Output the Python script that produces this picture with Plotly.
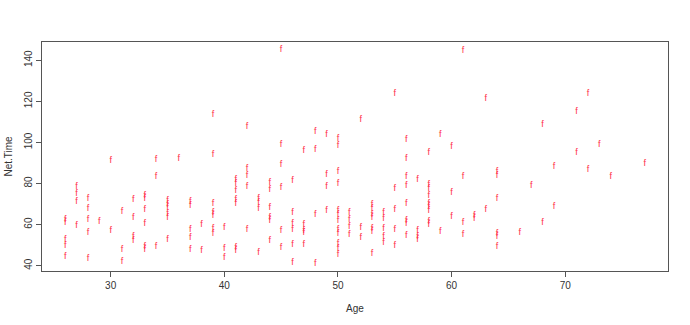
import plotly.graph_objects as go

# Data (Age -> Net.Time values)
ages_26_40 = {
    26: [62.4, 60.7, 52.7, 49.9, 44.5],
    27: [78.3, 75.1, 71.0, 59.6],
    28: [72.6, 67.8, 62.5, 55.9, 43.4],
    29: [61.2],
    30: [91.3, 56.9],
    31: [66.1, 47.8, 42.1],
    32: [72.1, 63.4, 53.9, 52.3],
    33: [74.2, 72.8, 67.3, 60.5, 49.4, 47.8],
    34: [91.8, 83.5, 49.4],
    35: [71.8, 69.9, 68.1, 65.5, 63.5, 52.8],
    36: [92.3],
    37: [71.0, 69.4, 57.5, 53.4, 47.8],
    38: [60.0, 47.5],
    39: [113.5, 94.2, 70.2, 65.6, 64.4, 57.8, 55.6],
    40: [58.5, 48.3, 43.8],
}
ages_41_55 = {
    41: [82.0, 80.0, 76.7, 72.0, 70.3, 48.5, 47.3],
    42: [107.5, 87.2, 84.0, 78.3, 57.5],
    43: [72.8, 70.8, 67.6, 46.1],
    44: [80.2, 77.0, 68.4, 63.2, 61.8, 52.0],
    45: [145.0, 99.1, 89.3, 77.8, 56.9, 48.6],
    46: [81.3, 65.9, 60.6, 57.5, 50.4, 41.3],
    47: [95.8, 60.1, 57.0, 55.8, 50.4],
    48: [105.2, 96.5, 65.0, 41.0],
    49: [103.6, 84.5, 78.6, 66.6],
    50: [101.9, 98.6, 85.8, 79.8, 66.6, 64.6, 62.1, 57.3, 55.6, 50.7, 48.3, 45.5],
    51: [65.6, 62.4, 59.1, 55.2],
    52: [111.1, 58.5, 53.6],
    53: [69.5, 67.6, 65.0, 63.2, 57.8, 56.6, 46.0],
    54: [65.6, 62.9, 58.2, 53.9, 51.2],
    55: [123.8, 77.5, 67.3, 57.5, 49.9],
}
ages_56_77 = {
    56: [101.4, 92.1, 83.2, 79.0, 70.0, 62.1, 60.5, 54.8],
    57: [81.9, 56.9, 54.0, 52.4],
    58: [94.8, 79.2, 77.5, 74.2, 70.0, 68.6, 66.6, 61.5, 60.0],
    59: [103.5, 56.4],
    60: [97.7, 75.6, 63.6],
    61: [144.5, 83.2, 60.7, 55.2],
    62: [64.5, 63.0],
    63: [121.3, 67.3],
    64: [85.6, 84.0, 72.5, 55.6, 54.0, 49.4],
    66: [55.9],
    67: [78.8],
    68: [108.7, 60.9],
    69: [88.4, 68.5],
    71: [114.8, 95.0],
    72: [123.8, 86.8],
    73: [99.0],
    74: [83.2],
    77: [89.8],
}

x_ticks = [30, 40, 50, 60, 70]
y_ticks = [40, 60, 80, 100, 120, 140]

age = []
net_time = []
for grp in (ages_26_40, ages_41_55, ages_56_77):
    for a, vals in grp.items():
        for v in vals:
            age.append(a)
            net_time.append(v)

fig = go.Figure()
fig.add_trace(go.Scatter(
    x=age, y=net_time, mode="text", text=["f"] * len(age),
    textposition="middle center",
    textfont=dict(family="Liberation Sans, Arial, sans-serif", size=9, color="#FF3048"),
    hoverinfo="x+y", showlegend=False, cliponaxis=False,
))

axis_common = dict(
    showgrid=False, zeroline=False, showline=True, mirror=True,
    linecolor="#555555", linewidth=1, ticks="outside", ticklen=5,
    tickcolor="#555555", tickwidth=1,
    tickfont=dict(family="Liberation Sans, Arial, sans-serif", size=10, color="#333333"),
    automargin=False,
)

fig.update_layout(
    width=690, height=325,
    margin=dict(l=42, r=22, t=42, b=54),
    paper_bgcolor="white", plot_bgcolor="white",
    xaxis=dict(range=[23.96, 79.04], tickvals=x_ticks,
               title=dict(text="Age", standoff=14,
                          font=dict(family="Liberation Sans, Arial, sans-serif", size=10, color="#333333")),
               **axis_common),
    yaxis=dict(range=[37.4, 148.9], tickvals=y_ticks, tickangle=-90,
               title=dict(text="Net.Time", standoff=8,
                          font=dict(family="Liberation Sans, Arial, sans-serif", size=10, color="#333333")),
               **axis_common),
)

fig.write_html("out.html")
